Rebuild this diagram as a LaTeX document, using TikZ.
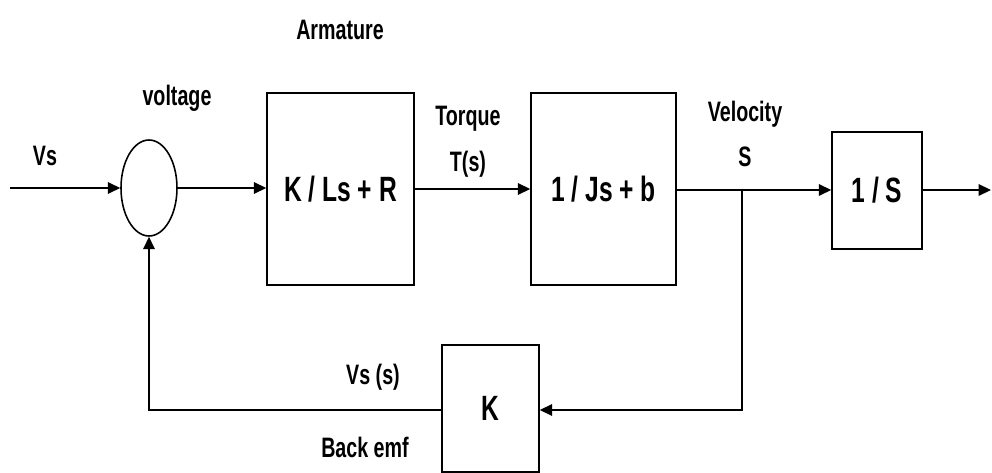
\documentclass[tikz,border=0pt]{standalone}
\usepackage{fontspec}
\setmainfont{Liberation Sans}[FakeStretch=0.7]
\usetikzlibrary{arrows.meta, positioning, shapes.geometric}
\tikzset{
  blk/.style={draw, line width=0.9pt, inner sep=0pt,
              font=\fontsize{20}{22}\selectfont\bfseries},
  lbl/.style={font=\fontsize{16}{26}\selectfont\bfseries, align=center, inner sep=1pt},
  sig/.style={-{Triangle[length=7pt,width=6.5pt]}, line width=1pt},
  wire/.style={line width=1pt},
}
\begin{document}
\begin{tikzpicture}[x=0.02cm, y=-0.02cm]
  \useasboundingbox (0,0) rectangle (992,473);

  % Summing junction
  \coordinate (in) at (10,188);
  \node[ellipse, draw, line width=0.9pt, minimum width=1.12cm, minimum height=1.92cm] (sum) at (149,188) {};
  \node[lbl] (vs) at (45,156) {Vs};
  \node[lbl] (volt) at (177,98) {voltage};

  % Forward path
  \node[blk, minimum width=2.94cm, minimum height=3.84cm] (arm) at (340.5,189) {K / Ls + R};
  \node[lbl] (armlbl) at (340,30) {Armature};
  \node[blk, minimum width=2.9cm, minimum height=3.84cm] (mech) at (603.5,189) {1 / Js + b};
  \node[lbl] (torq) at (468,142) {Torque\\T(s)};
  \node[blk, minimum width=1.8cm, minimum height=2.34cm] (integ) at (877,190.5) {1 / S};
  \node[lbl] (vel) at (745,134) {Velocity\\S};
  \coordinate (out) at (991,190);

  \draw[sig] (in) -- (sum.west);
  \draw[sig] (sum.east) -- (arm.west |- sum.east);
  \draw[sig] (arm.east) -- (mech.west);
  \coordinate (br) at (742,190);
  \draw[wire] (mech.east |- br) -- (br);
  \draw[sig] (br) -- (integ.west |- br);
  \draw[sig] (integ.east |- out) -- (out);

  % Feedback
  \node[blk, minimum width=1.94cm, minimum height=2.54cm] (kb) at (490.5,408.5) {K};
  \node[lbl] (vss) at (373,377) {Vs (s)};
  \node[lbl] (bemf) at (365,447) {Back emf};
  \draw[sig] (br) |- (kb.east |- 0,410);
  \draw[sig] (kb.west |- 0,410) -| (sum.south);
\end{tikzpicture}
\end{document}
